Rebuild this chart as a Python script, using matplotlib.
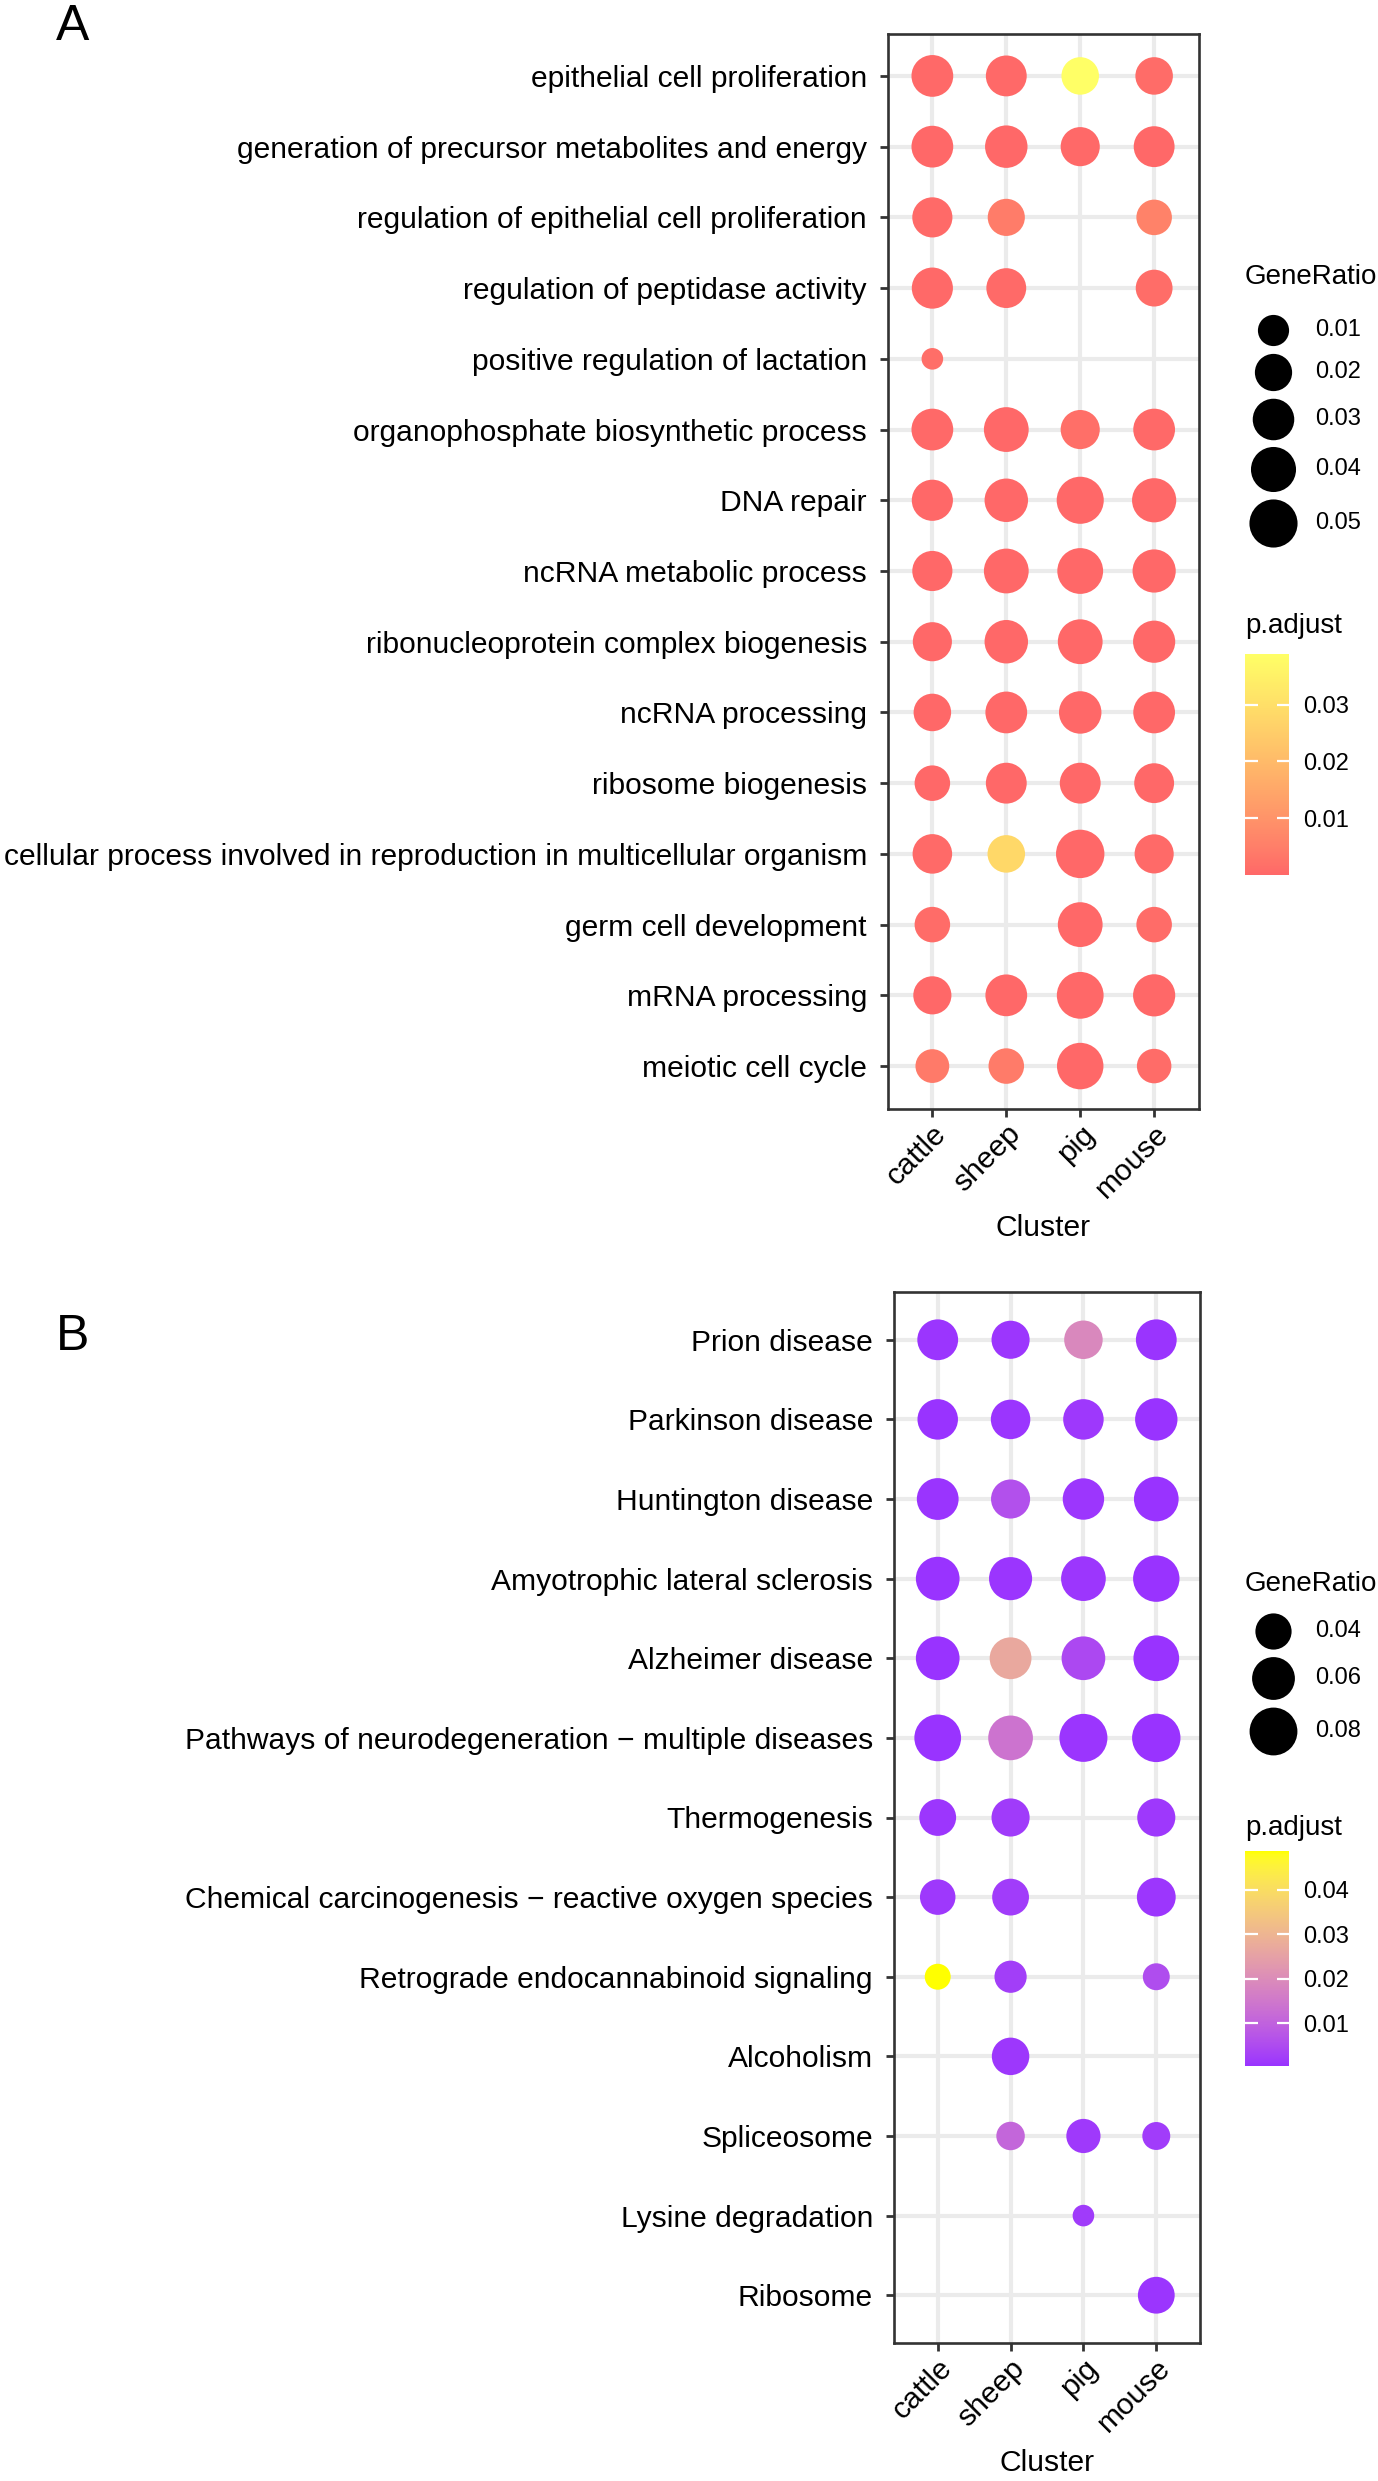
import numpy as np
import matplotlib
matplotlib.use("Agg")
import matplotlib.pyplot as plt
from matplotlib.colors import ListedColormap, Normalize, to_rgb
from matplotlib.cm import ScalarMappable
from matplotlib.ticker import FormatStrFormatter
from matplotlib.transforms import ScaledTranslation

plt.rcParams["font.family"] = ["Liberation Sans", "DejaVu Sans"]

nan = np.nan
clusters = ["cattle", "sheep", "pig", "mouse"]

# panel A: GO terms
go_terms = [
    "epithelial cell proliferation",
    "generation of precursor metabolites and energy",
    "regulation of epithelial cell proliferation",
    "regulation of peptidase activity",
    "positive regulation of lactation",
    "organophosphate biosynthetic process",
    "DNA repair",
    "ncRNA metabolic process",
    "ribonucleoprotein complex biogenesis",
    "ncRNA processing",
    "ribosome biogenesis",
    "cellular process involved in reproduction in multicellular organism",
    "germ cell development",
    "mRNA processing",
    "meiotic cell cycle",
]
go_ratio = [
    [0.0306, 0.0283, 0.0206, 0.0206],
    [0.0306, 0.0325, 0.0241, 0.0283],
    [0.0265, 0.0198, nan, 0.0167],
    [0.0290, 0.0258, nan, 0.0192],
    [0.0040, nan, nan, nan],
    [0.0306, 0.0392, 0.0241, 0.0306],
    [0.0290, 0.0353, 0.0465, 0.0374],
    [0.0265, 0.0392, 0.0423, 0.0345],
    [0.0241, 0.0353, 0.0392, 0.0317],
    [0.0206, 0.0306, 0.0325, 0.0306],
    [0.0167, 0.0283, 0.0283, 0.0258],
    [0.0251, 0.0206, 0.0510, 0.0241],
    [0.0167, nan, 0.0392, 0.0167],
    [0.0219, 0.0306, 0.0455, 0.0317],
    [0.0137, 0.0167, 0.0445, 0.0149],
]
go_padj = [
    [2e-4, 3e-4, 0.0389, 9e-4],
    [1e-6, 1e-7, 2e-4, 1e-5],
    [5e-4, 0.0045, nan, 0.0058],
    [4e-4, 6e-4, nan, 1.2e-3],
    [1.5e-3, nan, nan, nan],
    [3e-4, 1e-5, 0.0016, 2e-4],
    [1e-5, 1e-6, 1e-9, 1e-6],
    [1e-6, 1e-9, 1e-12, 1e-10],
    [1e-5, 1e-8, 1e-10, 1e-8],
    [1e-5, 1e-8, 1e-10, 1e-9],
    [1e-4, 1e-8, 1e-9, 1e-7],
    [5e-4, 0.0280, 1e-9, 6e-4],
    [8e-4, nan, 1e-8, 1e-3],
    [1e-5, 1e-7, 1e-12, 1e-9],
    [0.0040, 0.0042, 1e-10, 9e-4],
]

# panel B: KEGG pathways
kegg_terms = [
    "Prion disease",
    "Parkinson disease",
    "Huntington disease",
    "Amyotrophic lateral sclerosis",
    "Alzheimer disease",
    "Pathways of neurodegeneration \u2212 multiple diseases",
    "Thermogenesis",
    "Chemical carcinogenesis \u2212 reactive oxygen species",
    "Retrograde endocannabinoid signaling",
    "Alcoholism",
    "Spliceosome",
    "Lysine degradation",
    "Ribosome",
]
kegg_ratio = [
    [0.0531, 0.0450, 0.0461, 0.0531],
    [0.0521, 0.0490, 0.0521, 0.0585],
    [0.0564, 0.0478, 0.0551, 0.0670],
    [0.0632, 0.0610, 0.0670, 0.0739],
    [0.0632, 0.0564, 0.0632, 0.0710],
    [0.0752, 0.0670, 0.0808, 0.0826],
    [0.0415, 0.0450, nan, 0.0450],
    [0.0383, 0.0415, nan, 0.0470],
    [0.0236, 0.0315, nan, 0.0244],
    [nan, 0.0433, nan, nan],
    [nan, 0.0260, 0.0354, 0.0254],
    [nan, nan, 0.0220, nan],
    [nan, nan, nan, 0.0415],
]
kegg_padj = [
    [0.0009, 0.0012, 0.0190, 0.0008],
    [0.0006, 0.0010, 0.0015, 0.00045],
    [0.0007, 0.0060, 0.0011, 0.0005],
    [0.0005, 0.0009, 0.0012, 0.0005],
    [0.0006, 0.0270, 0.0045, 0.0005],
    [0.0005, 0.0140, 0.0009, 0.0005],
    [0.0012, 0.0018, nan, 0.0014],
    [0.0015, 0.0021, nan, 0.0011],
    [0.0487, 0.0025, nan, 0.0055],
    [nan, 0.0013, nan, nan],
    [nan, 0.0110, 0.0016, 0.0020],
    [nan, nan, 0.0019, nan],
    [nan, nan, nan, 0.0010],
]

go_size_breaks = [0.01, 0.02, 0.03, 0.04, 0.05]
go_color_ticks = [0.01, 0.02, 0.03]
kegg_size_breaks = [0.04, 0.06, 0.08]
kegg_color_ticks = [0.01, 0.02, 0.03, 0.04]

W, H, DPI = 1378, 2481, 100
FS = 21.6
GRID = "#EBEBEB"
DARK = "#333333"


# ggplot-like gradient, interpolated in CIELAB
M = np.array([[0.4124564, 0.3575761, 0.1804375],
              [0.2126729, 0.7151522, 0.0721750],
              [0.0193339, 0.1191920, 0.9503041]])
WHITE = np.array([0.95047, 1.0, 1.08883])


def srgb_to_lab(rgb):
    rgb = np.asarray(rgb, float)
    lin = np.where(rgb <= 0.04045, rgb / 12.92, ((rgb + 0.055) / 1.055) ** 2.4)
    xyz = M @ lin / WHITE
    f = np.where(xyz > (6 / 29) ** 3, np.cbrt(xyz), xyz / (3 * (6 / 29) ** 2) + 4 / 29)
    return np.array([116 * f[1] - 16, 500 * (f[0] - f[1]), 200 * (f[1] - f[2])])


def lab_to_srgb(lab):
    fy = (lab[0] + 16) / 116
    f = np.array([fy + lab[1] / 500, fy, fy - lab[2] / 200])
    xyz = np.where(f > 6 / 29, f ** 3, 3 * (6 / 29) ** 2 * (f - 4 / 29)) * WHITE
    lin = np.clip(np.linalg.inv(M) @ xyz, 0, 1)
    rgb = np.where(lin <= 0.0031308, 12.92 * lin, 1.055 * lin ** (1 / 2.4) - 0.055)
    return np.clip(rgb, 0, 1)


def lab_gradient(low, high, n=256):
    a, b = srgb_to_lab(to_rgb(low)), srgb_to_lab(to_rgb(high))
    return ListedColormap([lab_to_srgb(a + (b - a) * t) for t in np.linspace(0, 1, n)])


def dot_diameter(ratio, lo, hi):
    # pixels, area-style scaling like scale_size(range = c(3, 8))
    return 21.6 + 26.8 * np.sqrt((np.asarray(ratio, float) - lo) / (hi - lo))


def px_to_s(d):
    return (np.asarray(d) * 72 / DPI) ** 2


def draw_panel(fig, ov, rect, terms, ratio, padj, cmap, size_breaks, color_ticks, leg):
    ratio = np.array(ratio, float)
    padj = np.array(padj, float)
    lo, hi = np.nanmin(ratio), np.nanmax(ratio)
    norm = Normalize(np.nanmin(padj), np.nanmax(padj))

    ax = fig.add_axes(rect)
    rows, cols = np.nonzero(~np.isnan(ratio))
    ax.scatter(cols, rows, s=px_to_s(dot_diameter(ratio[rows, cols], lo, hi)),
               c=padj[rows, cols], cmap=cmap, norm=norm, linewidths=0, zorder=3)
    ax.set_xlim(-0.6, len(clusters) - 0.4)
    ax.set_ylim(len(terms) - 0.4, -0.6)
    ax.set_xticks(range(len(clusters)))
    ax.set_yticks(range(len(terms)))
    ax.set_yticklabels(terms)
    ax.set_xticklabels(clusters, rotation=45, ha="right", va="top", rotation_mode="anchor")
    shift = ScaledTranslation(10 / DPI, 0, fig.dpi_scale_trans)
    for lab in ax.get_xticklabels():
        lab.set_transform(lab.get_transform() + shift)
    ax.set_axisbelow(True)
    ax.grid(color=GRID, lw=3.0)
    for sp in ax.spines.values():
        sp.set_color(DARK)
        sp.set_linewidth(1.9)
    ax.tick_params(axis="both", length=5.8, width=2.0, color=DARK, labelsize=FS, labelcolor="black")
    ax.tick_params(axis="x", pad=2.2)
    ax.tick_params(axis="y", pad=9.4)
    ax.set_xlabel("Cluster", fontsize=FS, va="center")
    ax_h = rect[3] * H
    ax.xaxis.set_label_coords(0.5, -120 / ax_h)

    # GeneRatio legend
    ov.text(1245, leg["title"], "GeneRatio", fontsize=20, ha="left", va="center")
    y, prev = leg["key0"], None
    for b in size_breaks:
        d = float(dot_diameter(b, lo, hi))
        if prev is not None:
            y += (prev + d) / 2 + 7.5
        ov.scatter([1273], [y], s=px_to_s(d), color="black", linewidths=0)
        ov.text(1315, y, f"{b:.2f}", fontsize=17, ha="left", va="center")
        prev = d

    # p.adjust colorbar
    ov.text(1245, leg["ptitle"], "p.adjust", fontsize=20, ha="left", va="center")
    top, bot = leg["bar"]
    cax = fig.add_axes([1245 / W, 1 - bot / H, 44 / W, (bot - top) / H])
    cb = fig.colorbar(ScalarMappable(norm=norm, cmap=cmap), cax=cax, ticks=color_ticks)
    cb.outline.set_visible(False)
    cb.ax.yaxis.set_major_formatter(FormatStrFormatter("%.2f"))
    cax.tick_params(direction="in", left=True, right=True, color="white", length=9,
                    width=1.6, labelsize=17, pad=10)
    return ax


fig = plt.figure(figsize=(W / DPI, H / DPI), dpi=DPI)
ov = fig.add_axes([0, 0, 1, 1])
ov.set_xlim(0, W)
ov.set_ylim(H, 0)
ov.axis("off")

cmap_go = lab_gradient("#FF6868", "#FFFF66")
cmap_kegg = lab_gradient("#9933FF", "#FFFF00")

draw_panel(fig, ov, [888 / W, 1 - 1108.5 / H, 310.5 / W, 1075 / H],
           go_terms, go_ratio, go_padj, cmap_go, go_size_breaks, go_color_ticks,
           {"title": 277, "key0": 330, "ptitle": 626, "bar": (654, 875)})
draw_panel(fig, ov, [894 / W, 1 - 2343 / H, 306 / W, 1051 / H],
           kegg_terms, kegg_ratio, kegg_padj, cmap_kegg, kegg_size_breaks, kegg_color_ticks,
           {"title": 1584, "key0": 1631, "ptitle": 1828, "bar": (1851, 2066)})

ov.text(73, 27, "A", fontsize=36, ha="center", va="center")
ov.text(73, 1337, "B", fontsize=36, ha="center", va="center")

fig.savefig("out.png", dpi=DPI)
